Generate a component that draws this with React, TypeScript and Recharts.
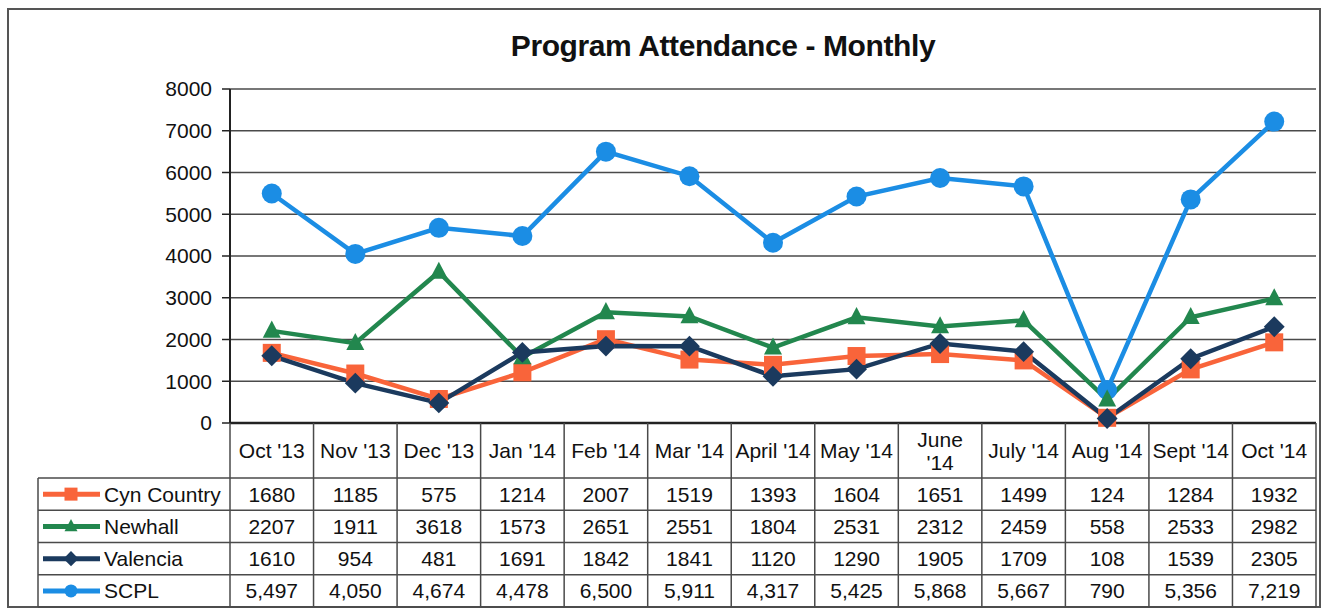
import { LineChart, Line, XAxis, YAxis, CartesianGrid } from 'recharts';

const months = ["Oct '13", "Nov '13", "Dec '13", "Jan '14", "Feb '14", "Mar '14", "April '14", "May '14", "June '14", "July '14", "Aug '14", "Sept '14", "Oct '14"];
// header cells of the table (June wraps onto two lines in the original)
const headerLabels = ["Oct '13", "Nov '13", "Dec '13", "Jan '14", "Feb '14", "Mar '14", "April '14", "May '14", "June\n'14", "July '14", "Aug '14", "Sept '14", "Oct '14"];

const cynCountry = [1680, 1185, 575, 1214, 2007, 1519, 1393, 1604, 1651, 1499, 124, 1284, 1932];
const newhall = [2207, 1911, 3618, 1573, 2651, 2551, 1804, 2531, 2312, 2459, 558, 2533, 2982];
const valencia = [1610, 954, 481, 1691, 1842, 1841, 1120, 1290, 1905, 1709, 108, 1539, 2305];
const scpl = [5497, 4050, 4674, 4478, 6500, 5911, 4317, 5425, 5868, 5667, 790, 5356, 7219];

const yTicks = [0, 1000, 2000, 3000, 4000, 5000, 6000, 7000, 8000];

const data = months.map((month, i) => ({
  month,
  cyn: cynCountry[i],
  newhall: newhall[i],
  valencia: valencia[i],
  scpl: scpl[i],
}));

type Shape = 'square' | 'triangle' | 'diamond' | 'circle';

// table row order
const series: { key: string; name: string; color: string; shape: Shape; comma: boolean }[] = [
  { key: 'cyn', name: 'Cyn Country', color: '#F9643A', shape: 'square', comma: false },
  { key: 'newhall', name: 'Newhall', color: '#22874E', shape: 'triangle', comma: false },
  { key: 'valencia', name: 'Valencia', color: '#1B3A5E', shape: 'diamond', comma: false },
  { key: 'scpl', name: 'SCPL', color: '#1B8DE4', shape: 'circle', comma: true },
];
// draw order in the plot
const drawOrder = ['scpl', 'cyn', 'newhall', 'valencia'];

const W = 1325;
const H = 609;
const PLOT_LEFT = 230;
const PLOT_RIGHT = 1316;
const PLOT_TOP = 89;
const AXIS_H = 186;
const PLOT_BOTTOM = H - AXIS_H;
const BAND = (PLOT_RIGHT - PLOT_LEFT) / months.length;
const HEADER_BOTTOM = 478;
const ROW_H = 32.25;
const LEGEND_LEFT = 38;
const FONT = '"Liberation Sans", Arial, sans-serif';
const GRID = '#4a4a4a';

function Marker({ shape, color, cx, cy, s }: { shape: Shape; color: string; cx: number; cy: number; s: number }) {
  if (shape === 'square') {
    return <rect x={cx - s / 2} y={cy - s / 2} width={s} height={s} fill={color} />;
  }
  if (shape === 'triangle') {
    const h = s * 0.95;
    return <polygon points={`${cx},${cy - h * 0.6} ${cx + s / 2},${cy + h * 0.4} ${cx - s / 2},${cy + h * 0.4}`} fill={color} />;
  }
  if (shape === 'diamond') {
    const r = s * 0.58;
    return <polygon points={`${cx},${cy - r} ${cx + r},${cy} ${cx},${cy + r} ${cx - r},${cy}`} fill={color} />;
  }
  return <circle cx={cx} cy={cy} r={s / 2} fill={color} />;
}

function fmt(v: number, comma: boolean) {
  return comma ? v.toLocaleString('en-US') : String(v);
}

function TableColumn(props: any) {
  const { x, index } = props;
  const left = x - BAND / 2;
  const right = x + BAND / 2;
  const label = headerLabels[index];
  const lines = label.split('\n');
  const headerMid = (PLOT_BOTTOM + HEADER_BOTTOM) / 2;
  const bottom = HEADER_BOTTOM + ROW_H * series.length;
  return (
    <g fontFamily={FONT} fontSize={21} fill="#111">
      <line x1={left} x2={left} y1={PLOT_BOTTOM} y2={bottom} stroke={GRID} strokeWidth={1.5} />
      {index === months.length - 1 && (
        <line x1={right} x2={right} y1={PLOT_BOTTOM} y2={bottom} stroke={GRID} strokeWidth={1.5} />
      )}
      {lines.map((ln, j) => (
        <text key={j} x={x} y={headerMid + (j - (lines.length - 1) / 2) * 23} textAnchor="middle" dominantBaseline="central">
          {ln}
        </text>
      ))}
      {series.map((s, r) => {
        const top = HEADER_BOTTOM + r * ROW_H;
        const row = data[index] as any;
        return (
          <g key={s.key}>
            <line x1={left} x2={right} y1={top} y2={top} stroke={GRID} strokeWidth={1.5} />
            <text x={x} y={top + ROW_H / 2} textAnchor="middle" dominantBaseline="central">
              {fmt(row[s.key], s.comma)}
            </text>
          </g>
        );
      })}
      <line x1={left} x2={right} y1={bottom} y2={bottom} stroke={GRID} strokeWidth={1.5} />
      {index === 0 && (
        <g>
          <line x1={LEGEND_LEFT} x2={LEGEND_LEFT} y1={HEADER_BOTTOM} y2={bottom} stroke={GRID} strokeWidth={1.5} />
          {series.map((s, r) => {
            const top = HEADER_BOTTOM + r * ROW_H;
            const cy = top + ROW_H / 2;
            return (
              <g key={s.key}>
                <line x1={LEGEND_LEFT} x2={left} y1={top} y2={top} stroke={GRID} strokeWidth={1.5} />
                <line x1={LEGEND_LEFT + 5} x2={LEGEND_LEFT + 62} y1={cy} y2={cy} stroke={s.color} strokeWidth={5} />
                <Marker shape={s.shape} color={s.color} cx={LEGEND_LEFT + 33} cy={cy} s={13} />
                <text x={LEGEND_LEFT + 66} y={cy} dominantBaseline="central">{s.name}</text>
              </g>
            );
          })}
          <line x1={LEGEND_LEFT} x2={left} y1={bottom} y2={bottom} stroke={GRID} strokeWidth={1.5} />
        </g>
      )}
    </g>
  );
}

export default function App() {
  return (
    <div style={{ position: 'absolute', left: 0, top: 0, width: W, height: H, background: '#fff' }}>
      <svg width={W} height={H} style={{ position: 'absolute', left: 0, top: 0 }}>
        <rect x={8} y={9} width={1312} height={598} fill="none" stroke="#555" strokeWidth={2} />
        <text x={723} y={56} textAnchor="middle" fontFamily={FONT} fontWeight="bold" fontSize={30} letterSpacing={-0.4} fill="#111">
          Program Attendance - Monthly
        </text>
      </svg>
      <div style={{ position: 'absolute', left: 0, top: 0 }}>
        <LineChart width={W} height={H} data={data} margin={{ top: PLOT_TOP, right: W - PLOT_RIGHT, bottom: 0, left: 0 }}>
          <CartesianGrid vertical={false} stroke={GRID} strokeWidth={1.3} />
          <XAxis
            dataKey="month"
            scale="band"
            interval={0}
            height={AXIS_H}
            tickLine={false}
            axisLine={{ stroke: '#222', strokeWidth: 2.5 }}
            tick={(p: any) => <TableColumn key={p.index} {...p} />}
          />
          <YAxis
            width={PLOT_LEFT}
            domain={[0, 8000]}
            ticks={yTicks}
            interval={0}
            tickSize={8}
            tickMargin={10}
            axisLine={{ stroke: '#222', strokeWidth: 2 }}
            tickLine={{ stroke: '#222', strokeWidth: 1.5 }}
            tick={{ fill: '#111', fontSize: 21, fontFamily: FONT }}
          />
          <YAxis
            yAxisId="right"
            orientation="right"
            width={0}
            domain={[0, 8000]}
            tick={false}
            tickLine={false}
            axisLine={{ stroke: '#333', strokeWidth: 2 }}
          />
          {drawOrder.map((k) => {
            const s = series.find((d) => d.key === k)!;
            return (
              <Line
                key={s.key}
                dataKey={s.key}
                name={s.name}
                stroke={s.color}
                strokeWidth={4.5}
                isAnimationActive={false}
                dot={(p: any) => <Marker key={p.index} shape={s.shape} color={s.color} cx={p.cx} cy={p.cy} s={s.shape === 'circle' ? 20 : 18} />}
                activeDot={false}
              />
            );
          })}
        </LineChart>
      </div>
    </div>
  );
}
